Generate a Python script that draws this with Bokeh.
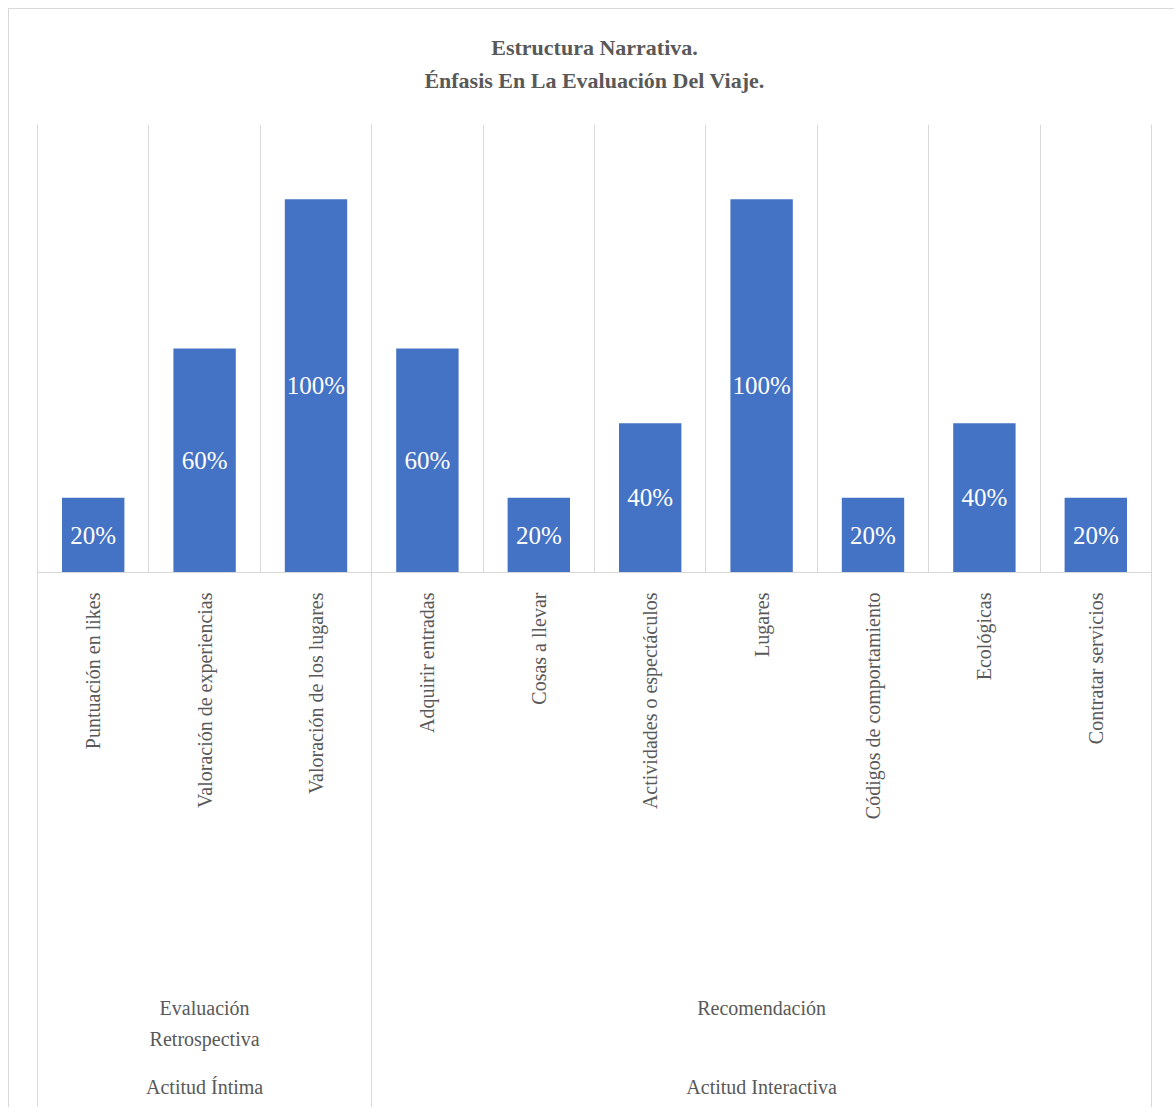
import math
from bokeh.plotting import figure
from bokeh.models import (Range1d, LinearAxis, FixedTicker, Grid, ColumnDataSource, Title)
from bokeh.embed import file_html
from bokeh.resources import INLINE
from bokeh.core.properties import value

# ---------------- data ----------------
categories = ["Puntuación en likes", "Valoración de experiencias", "Valoración de los lugares",
              "Adquirir entradas", "Cosas a llevar", "Actividades o espectáculos", "Lugares",
              "Códigos de comportamiento", "Ecológicas", "Contratar servicios"]
values = [0.2, 0.6, 1.0, 0.6, 0.2, 0.4, 1.0, 0.2, 0.4, 0.2]
subgroups = ["Evaluación\nRetrospectiva", "Recomendación"]
subgroup_sizes = [3, 7]
groups = ["Actitud Íntima", "Actitud Interactiva"]
group_sizes = [3, 7]
title_lines = ["Estructura Narrativa.", "Énfasis En La Evaluación Del Viaje."]

# ---------------- helpers ----------------
def num(v):
    return int(v) if float(v).is_integer() else float(v)

def edges_centers(sizes):
    edges = [0]
    for s in sizes:
        edges.append(edges[-1] + s)
    centers = [num((edges[i] + edges[i + 1]) / 2) for i in range(len(sizes))]
    return [num(e) for e in edges], centers

n = len(categories)
cat_edges, cat_centers = edges_centers([1] * n)
sub_edges, sub_centers = edges_centers(subgroup_sizes)
grp_edges, grp_centers = edges_centers(group_sizes)
outer_edges = sorted(set(sub_edges) | set(grp_edges))

TEXT = "#595959"
LINE = "#d9d9d9"
FONT = "Liberation Serif"

p = figure(width=1166, height=1099, title=None,
           x_range=Range1d(0, n), y_range=Range1d(0, 1.2),
           output_backend="svg", toolbar_location=None, y_axis_location=None,
           min_border_left=28, min_border_right=24, min_border_top=115, min_border_bottom=536,
           outline_line_color=None, background_fill_color="white", border_fill_color="white")
p.styles = {"margin-left": "8px", "margin-top": "8px",
            "border-left": "1px solid #d9d9d9", "border-top": "1px solid #d9d9d9"}

# main category axis (the figure's own bottom axis)
ax = p.below[0]
ax.ticker = FixedTicker(ticks=cat_centers, minor_ticks=[])
ax.major_label_overrides = {c: name for c, name in zip(cat_centers, categories)}
ax.major_label_orientation = math.pi / 2
ax.major_label_text_font = FONT
ax.major_label_text_font_size = "20px"
ax.major_label_text_color = TEXT
ax.major_label_standoff = 20
ax.major_tick_line_color = None
ax.major_tick_in = 0
ax.major_tick_out = 0
ax.minor_tick_line_color = None
ax.minor_tick_in = 0
ax.minor_tick_out = 0
ax.axis_line_color = LINE
ax.axis_line_width = 1

# invisible spacer between the frame and the title lines
mid_tick = num(n / 2)
spacer = LinearAxis(ticker=FixedTicker(ticks=[mid_tick], minor_ticks=[]),
                    major_label_overrides={mid_tick: ""},
                    major_label_text_font_size="1px",
                    axis_line_color=None, major_tick_line_color=None, minor_tick_line_color=None,
                    major_tick_in=0, major_tick_out=28, minor_tick_in=0, minor_tick_out=0,
                    major_label_standoff=0)
p.add_layout(spacer, "above")

# title (two centred lines; first added sits next to the frame)
for line, standoff in zip(reversed(title_lines), [8, 3]):
    p.add_layout(Title(text=line, align="center", text_font=FONT, text_font_size="22px",
                       text_font_style="bold", text_color=TEXT, standoff=standoff), "above")

# grids
p.xgrid.visible = False
p.ygrid.visible = False
p.add_layout(Grid(dimension=0, ticker=FixedTicker(ticks=cat_edges),
                  grid_line_color=LINE, grid_line_width=1))

def label_axis(ticks, labels, standoff, line_height=1.2):
    return LinearAxis(ticker=FixedTicker(ticks=ticks, minor_ticks=[]),
                      major_label_overrides={t: l for t, l in zip(ticks, labels)},
                      axis_line_color=None, major_tick_line_color=None, minor_tick_line_color=None,
                      major_tick_in=0, major_tick_out=0, minor_tick_in=0, minor_tick_out=0,
                      major_label_standoff=standoff,
                      major_label_text_font=FONT, major_label_text_font_size="20px",
                      major_label_text_color=TEXT, major_label_text_line_height=line_height)

sub_axis = label_axis(sub_centers, subgroups, 174, 1.45)
grp_axis = label_axis(grp_centers, groups, 22)
p.add_layout(sub_axis, "below")
p.add_layout(grp_axis, "below")

line_axis = LinearAxis(ticker=FixedTicker(ticks=outer_edges, minor_ticks=[]),
                       major_label_overrides={t: "" for t in outer_edges},
                       axis_line_color=None, major_tick_line_color=LINE, major_tick_line_width=1,
                       minor_tick_line_color=None, minor_tick_in=0, minor_tick_out=0,
                       major_tick_in=976, major_tick_out=8, major_label_standoff=0)
p.add_layout(line_axis, "below")

# bars + labels
src = ColumnDataSource(dict(pos=cat_centers, val=values,
                            mid=[v / 2 for v in values],
                            lab=[f"{round(v * 100)}%" for v in values]))
p.vbar(x="pos", top="val", width=0.56, source=src, fill_color="#4472C4", line_color=None)
p.text(x="pos", y="mid", text="lab", source=src, text_color="white",
       text_font=value(FONT), text_font_size="25px", text_align="center", text_baseline="middle")

open("out.html", "w").write(file_html(p, INLINE))
